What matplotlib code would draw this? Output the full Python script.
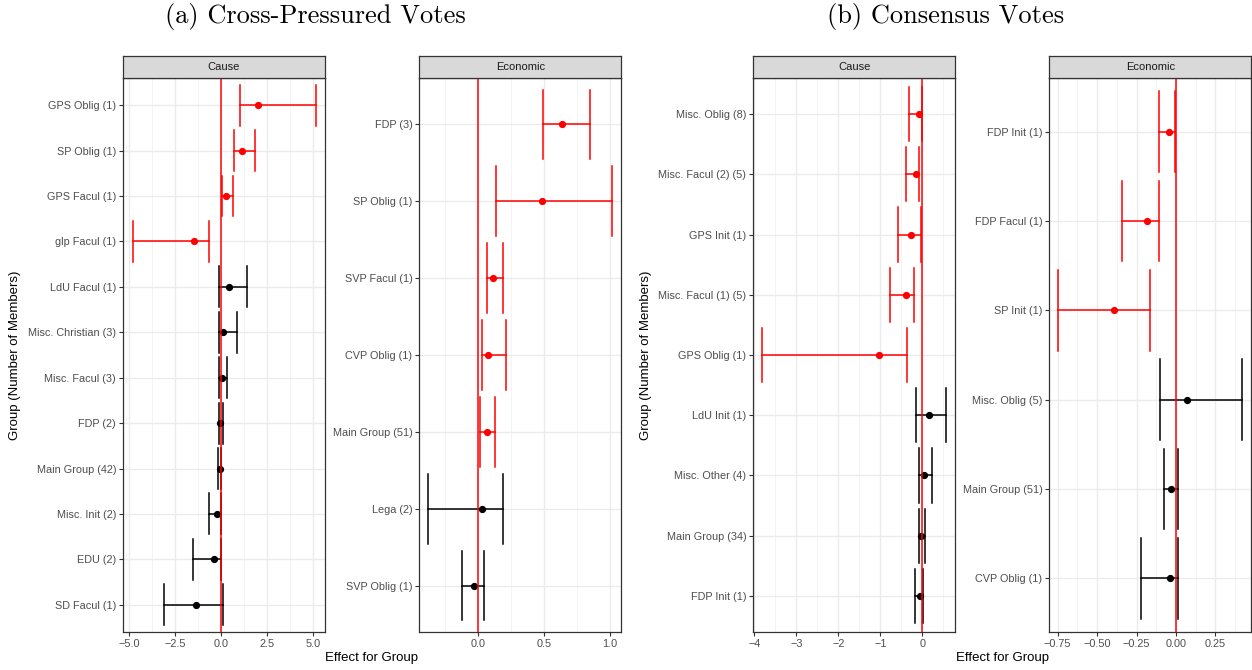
import numpy as np
import matplotlib.pyplot as plt
from matplotlib.ticker import FixedLocator, FixedFormatter

plt.rcParams['font.family'] = ['Liberation Sans', 'DejaVu Sans']

# (a) Cross-Pressured Votes, Cause
a_cause_groups = ["GPS Oblig (1)", "SP Oblig (1)", "GPS Facul (1)", "glp Facul (1)",
                  "LdU Facul (1)", "Misc. Christian (3)", "Misc. Facul (3)", "FDP (2)",
                  "Main Group (42)", "Misc. Init (2)", "EDU (2)", "SD Facul (1)"]
a_cause_est = [2.02, 1.13, 0.27, -1.44, 0.46, 0.10, 0.07, -0.04, -0.06, -0.22, -0.35, -1.37]
a_cause_lo = [1.03, 0.72, 0.07, -4.80, -0.10, -0.08, -0.08, -0.10, -0.13, -0.64, -1.50, -3.09]
a_cause_hi = [5.18, 1.84, 0.65, -0.62, 1.44, 0.88, 0.34, 0.14, 0.00, 0.03, 0.01, 0.12]

# (a) Cross-Pressured Votes, Economic
a_econ_groups = ["FDP (3)", "SP Oblig (1)", "SVP Facul (1)", "CVP Oblig (1)",
                 "Main Group (51)", "Lega (2)", "SVP Oblig (1)"]
a_econ_est = [0.637, 0.483, 0.116, 0.080, 0.068, 0.032, -0.026]
a_econ_lo = [0.496, 0.136, 0.068, 0.032, 0.017, -0.373, -0.116]
a_econ_hi = [0.846, 1.015, 0.194, 0.216, 0.128, 0.191, 0.050]

# (b) Consensus Votes, Cause
b_cause_groups = ["Misc. Oblig (8)", "Misc. Facul (2) (5)", "GPS Init (1)", "Misc. Facul (1) (5)",
                  "GPS Oblig (1)", "LdU Init (1)", "Misc. Other (4)", "Main Group (34)",
                  "FDP Init (1)"]
b_cause_est = [-0.071, -0.143, -0.262, -0.381, -1.024, 0.160, 0.040, -0.040, -0.055]
b_cause_lo = [-0.324, -0.388, -0.571, -0.769, -3.810, -0.143, -0.079, -0.087, -0.174]
b_cause_hi = [-0.007, -0.071, -0.040, -0.198, -0.364, 0.564, 0.224, 0.056, 0.010]

# (b) Consensus Votes, Economic
b_econ_groups = ["FDP Init (1)", "FDP Facul (1)", "SP Init (1)", "Misc. Oblig (5)",
                 "Main Group (51)", "CVP Oblig (1)"]
b_econ_est = [-0.046, -0.184, -0.393, 0.068, -0.032, -0.036]
b_econ_lo = [-0.106, -0.342, -0.746, -0.104, -0.074, -0.220]
b_econ_hi = [-0.008, -0.108, -0.163, 0.420, 0.013, 0.013]

W, H = 1252, 670
fig = plt.figure(figsize=(W / 100, H / 100), dpi=100)


def px_axes(x0, y0, x1, y1):
    return fig.add_axes([x0 / W, 1 - y1 / H, (x1 - x0) / W, (y1 - y0) / H])


def panel(x0, x1, title, groups, est, lo, hi, xlim, xticks, xlabels):
    ax = px_axes(x0, 78, x1, 632)
    n = len(groups)
    pos = np.arange(n)[::-1]
    for p, e, l, h in zip(pos, est, lo, hi):
        col = 'red' if (l > 0 or h < 0) else 'black'
        ax.plot([l, h], [p, p], color=col, lw=1.1, zorder=3)
        ax.plot([l, l], [p - 0.45, p + 0.45], color=col, lw=1.1, zorder=3)
        ax.plot([h, h], [p - 0.45, p + 0.45], color=col, lw=1.1, zorder=3)
        ax.plot(e, p, 'o', color=col, ms=4.2, zorder=4)
    ax.axvline(0, color='red', lw=1.2, zorder=5, alpha=0.9)
    ax.set_xlim(*xlim)
    ax.set_ylim(-0.6, n - 1 + 0.6)
    ax.set_yticks(pos)
    ax.set_yticklabels(groups)
    ax.xaxis.set_major_locator(FixedLocator(xticks))
    ax.xaxis.set_major_formatter(FixedFormatter(xlabels))
    minors = [(a + b) / 2 for a, b in zip(xticks[:-1], xticks[1:])]
    step = xticks[1] - xticks[0]
    minors = [xticks[0] - step / 2] + minors + [xticks[-1] + step / 2]
    ax.xaxis.set_minor_locator(FixedLocator(minors))
    ax.grid(which='major', color='#EBEBEB', lw=1.0)
    ax.grid(which='minor', axis='x', color='#F2F2F2', lw=0.6)
    ax.set_axisbelow(True)
    ax.tick_params(which='major', length=3, width=0.8, color='#333333',
                   labelcolor='#4D4D4D', labelsize=7.8, pad=2)
    ax.tick_params(which='minor', length=0)
    for s in ax.spines.values():
        s.set_color('#333333')
        s.set_linewidth(0.9)
    st = px_axes(x0, 56, x1, 78)
    st.set_facecolor('#D9D9D9')
    st.set_xticks([])
    st.set_yticks([])
    for s in st.spines.values():
        s.set_color('#333333')
        s.set_linewidth(0.9)
    st.text(0.5, 0.5, title, ha='center', va='center', fontsize=8, color='#1A1A1A',
            transform=st.transAxes)
    return ax


panel(123, 325, "Cause", a_cause_groups, a_cause_est, a_cause_lo, a_cause_hi,
      (-5.32, 5.67), [-5, -2.5, 0, 2.5, 5], ["\u22125.0", "\u22122.5", "0.0", "2.5", "5.0"])
panel(419.3, 621.3, "Economic", a_econ_groups, a_econ_est, a_econ_lo, a_econ_hi,
      (-0.441, 1.085), [0, 0.5, 1.0], ["0.0", "0.5", "1.0"])
panel(753.3, 955.3, "Cause", b_cause_groups, b_cause_est, b_cause_lo, b_cause_hi,
      (-4.024, 0.786), [-4, -3, -2, -1, 0], ["\u22124", "\u22123", "\u22122", "\u22121", "0"])
panel(1049.3, 1251.3, "Economic", b_econ_groups, b_econ_est, b_econ_lo, b_econ_hi,
      (-0.803, 0.477), [-0.75, -0.5, -0.25, 0, 0.25],
      ["\u22120.75", "\u22120.50", "\u22120.25", "0.00", "0.25"])

fig.text(315 / W, 1 - 17 / H, "(a) Cross-Pressured Votes", ha='center', va='center',
         fontsize=19, family='cmr10')
fig.text(946 / W, 1 - 17 / H, "(b) Consensus Votes", ha='center', va='center',
         fontsize=19, family='cmr10')
for x in (15, 646):
    fig.text(x / W, 1 - 355 / H, "Group (Number of Members)", rotation=90,
             ha='center', va='center', fontsize=9.5)
for x in (372, 1003):
    fig.text(x / W, 1 - 658 / H, "Effect for Group", ha='center', va='center', fontsize=9.5)

fig.savefig('out.png', dpi=100)
